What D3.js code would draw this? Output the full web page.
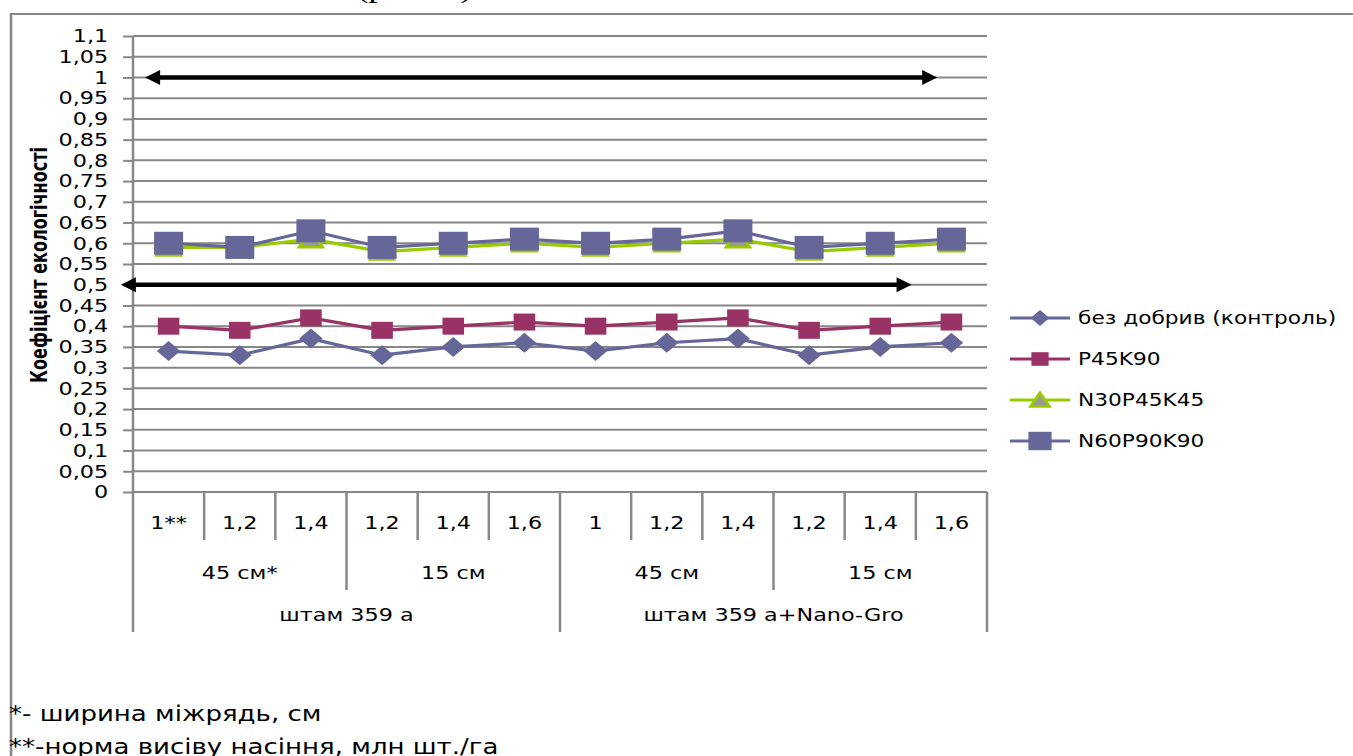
<!DOCTYPE html>
<html>
<head>
<meta charset="utf-8">
<script src="https://cdnjs.cloudflare.com/ajax/libs/d3/7.8.5/d3.min.js"></script>
<style>
  body { margin: 0; background: #fff; }
  svg { display: block; }
  text { font-family: "DejaVu Sans", sans-serif; fill: #000; }
</style>
</head>
<body>
<div id="chart-area"></div>
<script>
// seeding rate (level 1), row spacing (level 2), strain (level 3)
const rates = ["1**", "1,2", "1,4", "1,2", "1,4", "1,6", "1", "1,2", "1,4", "1,2", "1,4", "1,6"]
const spacings = [["45 см*", 3], ["15 см", 3], ["45 см", 3], ["15 см", 3]]
const strains = [["штам 359 а", 6], ["штам 359 а+Nano-Gro", 6]]

const controlVals = [0.34, 0.33, 0.37, 0.33, 0.35, 0.36, 0.34, 0.36, 0.37, 0.33, 0.35, 0.36]
const p45k90Vals = [0.40, 0.39, 0.42, 0.39, 0.40, 0.41, 0.40, 0.41, 0.42, 0.39, 0.40, 0.41]
const n30Vals = [0.59, 0.59, 0.61, 0.58, 0.59, 0.60, 0.59, 0.60, 0.61, 0.58, 0.59, 0.60]
const n60Vals = [0.60, 0.59, 0.63, 0.59, 0.60, 0.61, 0.60, 0.61, 0.63, 0.59, 0.60, 0.61]

const seriesNames = ["без добрив (контроль)", "P45K90", "N30P45K45", "N60P90K90"]

const yTicks = [0, 0.05, 0.1, 0.15, 0.2, 0.25, 0.3, 0.35, 0.4, 0.45, 0.5, 0.55,
  0.6, 0.65, 0.7, 0.75, 0.8, 0.85, 0.9, 0.95, 1, 1.05, 1.1]

// double arrows (level, from category pos, to category pos)
const arrows = [[1, -0.33, 10.8], [0.5, -0.67, 10.44]]

const footnotes = ["*- ширина міжрядь, см", "**-норма висіву насіння, млн шт./га"]

// the whole picture is drawn a bit wider than tall
const SX = 1.24
const u = px => px / SX

const svg = d3.select("#chart-area")
  .append("svg")
  .attr("width", 1353)
  .attr("height", 756)

const g = svg.append("g")
  .attr("transform", `scale(${SX},1)`)

// outer frame and cut title
g.append("rect")
  .attr("x", u(11)).attr("y", 14)
  .attr("width", u(1400)).attr("height", 800)
  .attr("fill", "none").attr("stroke", "#868686").attr("stroke-width", 2)

g.append("text")
  .attr("x", u(356)).attr("y", -3)
  .style("font-family", "'Liberation Serif', serif")
  .style("font-size", "30px")
  .text("(рис. 3)")

const x = d3.scaleBand()
  .domain(d3.range(rates.length))
  .range([u(133), u(987)])
const xPos = d3.scaleLinear()
  .domain([-0.5, rates.length - 0.5])
  .range([u(133), u(987)])
const y = d3.scaleLinear()
  .domain([0, 1.1])
  .range([492, 36])

// gridlines
g.append("g").selectAll("line")
  .data(yTicks)
  .enter().append("line")
  .attr("x1", u(133)).attr("x2", u(987))
  .attr("y1", d => y(d)).attr("y2", d => y(d))
  .attr("stroke", "#878787").attr("stroke-width", 2)

const fmt = d => String(+d.toFixed(2)).replace(".", ",")
const yAxis = g.append("g")
  .attr("transform", `translate(${u(133)},0)`)
  .call(d3.axisLeft(y).tickValues(yTicks).tickSize(8).tickPadding(12).tickFormat(fmt))
yAxis.select(".domain").remove()
yAxis.selectAll("line").attr("stroke", "#878787").attr("stroke-width", 2)
yAxis.selectAll("text").style("font-size", "18px").style("font-family", "'DejaVu Sans', sans-serif")

g.append("text")
  .attr("transform", `translate(${u(47)},265) rotate(-90)`)
  .attr("text-anchor", "middle")
  .attr("textLength", 236)
  .attr("lengthAdjust", "spacingAndGlyphs")
  .style("font-size", "18px").style("font-weight", "bold")
  .text("Коефіцієнт екологічності")

// multi level category axis
const axisLines = g.append("g")
axisLines.append("line")
  .attr("x1", u(133)).attr("x2", u(133)).attr("y1", 36).attr("y2", 632)
  .attr("stroke", "#878787").attr("stroke-width", 2)
d3.range(1, rates.length + 1).forEach(b => {
  const depth = (b === 6 || b === rates.length) ? 632 : (b % 3 === 0 ? 590 : 540)
  axisLines.append("line")
    .attr("x1", xPos(b - 0.5)).attr("x2", xPos(b - 0.5))
    .attr("y1", 492).attr("y2", depth)
    .attr("stroke", "#878787").attr("stroke-width", 2)
})

g.append("g").selectAll("text")
  .data(rates)
  .enter().append("text")
  .attr("x", (d, i) => x(i) + x.bandwidth() / 2)
  .attr("y", 523).attr("dy", "0.35em")
  .attr("text-anchor", "middle")
  .style("font-size", "18px")
  .text(d => d)

function spanLabels(list, yy) {
  let start = 0
  list.forEach(([label, span]) => {
    g.append("text")
      .attr("x", xPos(start - 0.5 + span / 2))
      .attr("y", yy).attr("dy", "0.35em")
      .attr("text-anchor", "middle")
      .style("font-size", "18px")
      .text(label)
    start += span
  })
}
spanLabels(spacings, 573)
spanLabels(strains, 615)

// arrows
arrows.forEach(([v, from, to]) => {
  const yy = y(v), x1 = xPos(from), x2 = xPos(to)
  const hl = u(15), hh = 7.5
  g.append("line")
    .attr("x1", x1 + hl - 1).attr("x2", x2 - hl + 1)
    .attr("y1", yy).attr("y2", yy)
    .attr("stroke", "#000").attr("stroke-width", 4.5)
  g.append("path")
    .attr("d", `M${x1},${yy} L${x1 + hl},${yy - hh} L${x1 + hl},${yy + hh} Z`)
    .attr("fill", "#000")
  g.append("path")
    .attr("d", `M${x2},${yy} L${x2 - hl},${yy - hh} L${x2 - hl},${yy + hh} Z`)
    .attr("fill", "#000")
})

// markers
const shapes = {
  diamond: s => `M0,${-10 * s} L${9.5 * s},0 L0,${10 * s} L${-9.5 * s},0 Z`,
  square: s => `M${-8.7 * s},${-8.5 * s} h${17.4 * s} v${17 * s} h${-17.4 * s} Z`,
  triangle: s => `M0,${-9 * s} L${9.5 * s},${8 * s} L${-9.5 * s},${8 * s} Z`,
  bigSquare: s => `M${-11.7 * s},${-11.5 * s} h${23.4 * s} v${23 * s} h${-23.4 * s} Z`
}

const series = [
  { name: seriesNames[0], values: controlVals, line: "#666699", fill: "#666699", stroke: "none", shape: "diamond" },
  { name: seriesNames[1], values: p45k90Vals, line: "#993366", fill: "#993366", stroke: "none", shape: "square" },
  { name: seriesNames[2], values: n30Vals, line: "#99CC00", fill: "#999999", stroke: "#99CC00", shape: "triangle" },
  { name: seriesNames[3], values: n60Vals, line: "#666699", fill: "#666699", stroke: "none", shape: "bigSquare" }
]

const line = d3.line()
  .x((d, i) => x(i) + x.bandwidth() / 2)
  .y(d => y(d))

series.forEach(s => {
  g.append("path")
    .datum(s.values)
    .attr("d", line)
    .attr("fill", "none")
    .attr("stroke", s.line)
    .attr("stroke-width", 3.2)
  g.append("g").selectAll("path")
    .data(s.values)
    .enter().append("path")
    .attr("transform", (d, i) => `translate(${x(i) + x.bandwidth() / 2},${y(d)})`)
    .attr("d", shapes[s.shape](1))
    .attr("fill", s.fill)
    .attr("stroke", s.stroke)
    .attr("stroke-width", 2.5)
})

// legend
const legend = g.append("g")
series.forEach((s, i) => {
  const ly = 318 + i * 41
  legend.append("line")
    .attr("x1", u(1010)).attr("x2", u(1070))
    .attr("y1", ly).attr("y2", ly)
    .attr("stroke", s.line).attr("stroke-width", 3.2)
  legend.append("path")
    .attr("transform", `translate(${u(1040)},${ly})`)
    .attr("d", shapes[s.shape](0.8))
    .attr("fill", s.fill)
    .attr("stroke", s.stroke)
    .attr("stroke-width", 2.5)
  legend.append("text")
    .attr("x", u(1078)).attr("y", ly).attr("dy", "0.35em")
    .style("font-size", "17.5px")
    .text(s.name)
})

// footnotes below the chart
g.append("g").selectAll("text")
  .data(footnotes)
  .enter().append("text")
  .attr("x", u(9))
  .attr("y", (d, i) => 721 + i * 33)
  .style("font-size", "21px")
  .text(d => d)
</script>
</body>
</html>
